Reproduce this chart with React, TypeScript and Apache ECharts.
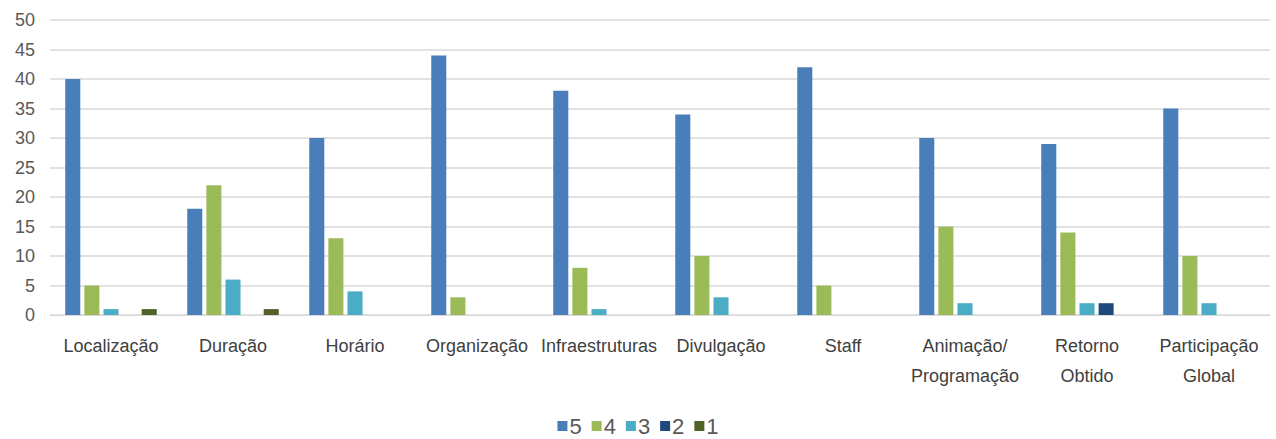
import React, { useEffect, useRef } from "react";
import * as echarts from "echarts";

const categories = [
  "Localização",
  "Duração",
  "Horário",
  "Organização",
  "Infraestruturas",
  "Divulgação",
  "Staff",
  "Animação/\nProgramação",
  "Retorno\nObtido",
  "Participação\nGlobal",
];
const seriesNames = ["5", "4", "3", "2", "1"];
const s5 = [40, 18, 30, 44, 38, 34, 42, 30, 29, 35];
const s4 = [5, 22, 13, 3, 8, 10, 5, 15, 14, 10];
const s3 = [1, 6, 4, 0, 1, 3, 0, 2, 2, 2];
const s2 = [0, 0, 0, 0, 0, 0, 0, 0, 2, 0];
const s1 = [1, 1, 0, 0, 0, 0, 0, 0, 0, 0];
const colors = ["#4a7ebb", "#9bbb59", "#4bacc6", "#1f497d", "#4f6228"];

export default function App() {
  const ref = useRef<HTMLDivElement>(null);
  useEffect(() => {
    if (!ref.current) return;
    const chart = echarts.init(ref.current, null, { renderer: "svg" });
    const data = [s5, s4, s3, s2, s1];
    chart.setOption({
      animation: false,
      color: colors,
      grid: { left: 50, right: 6, top: 20, bottom: 124, containLabel: false },
      legend: {
        bottom: -3,
        left: "center",
        itemWidth: 10,
        itemHeight: 10,
        itemGap: 10,
        icon: "rect",
        textStyle: { fontSize: 22, color: "#595959", fontFamily: "Liberation Sans, Arial", padding: [0, 0, 0, -3] },
        data: seriesNames,
      },
      xAxis: {
        type: "category",
        data: categories,
        axisLine: { show: true, lineStyle: { color: "#d9d9d9", width: 1 } },
        axisTick: { show: false },
        axisLabel: {
          color: "#404040",
          fontSize: 18,
          lineHeight: 30,
          margin: 16,
          interval: 0,
          fontFamily: "Liberation Sans, Arial",
        },
      },
      yAxis: {
        type: "value",
        min: 0,
        max: 50,
        interval: 5,
        axisLine: { show: false },
        axisTick: { show: false },
        splitLine: { lineStyle: { color: "#d9d9d9", width: 1.5 } },
        axisLabel: {
          color: "#595959",
          fontSize: 18,
          margin: 15,
          fontFamily: "Liberation Sans, Arial",
        },
      },
      series: seriesNames.map((n, i) => ({
        name: n,
        type: "bar",
        data: data[i],
        barGap: "27%",
        barCategoryGap: "25%",
        itemStyle: { color: colors[i] },
      })),
    });
    return () => chart.dispose();
  }, []);
  return (
    <div
      ref={ref}
      style={{ position: "fixed", left: 0, top: 0, width: 1276, height: 439, background: "#fff" }}
    />
  );
}
